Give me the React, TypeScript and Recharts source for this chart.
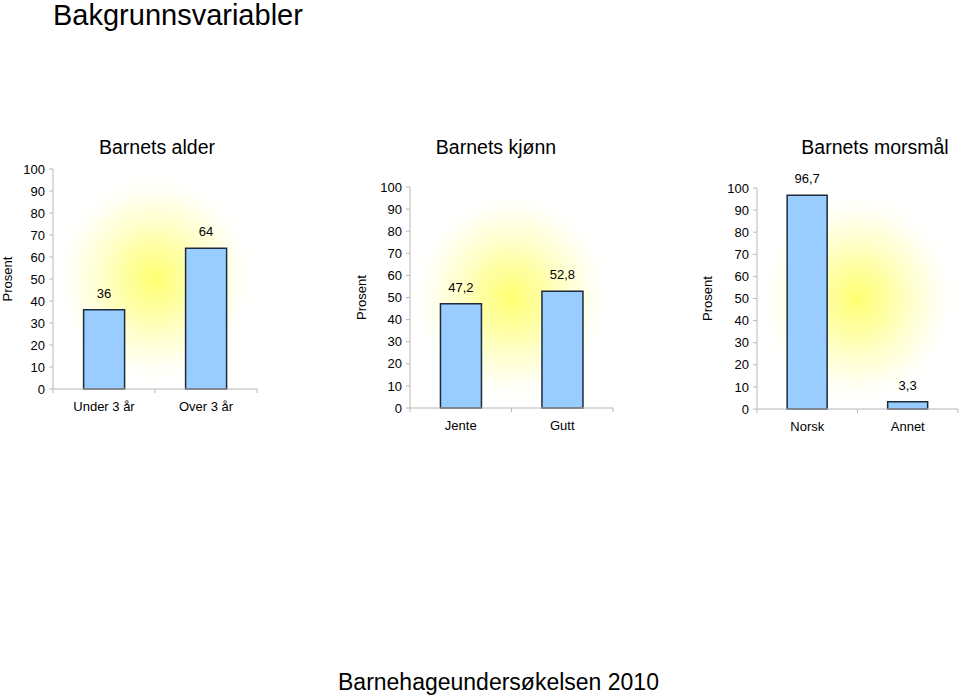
import React from 'react';
import { BarChart, Bar, XAxis, YAxis, ReferenceArea, LabelList } from 'recharts';

const ageCategories = ['Under 3 år', 'Over 3 år'];
const ageValues = [36, 64];
const genderCategories = ['Jente', 'Gutt'];
const genderValues = [47.2, 52.8];
const languageCategories = ['Norsk', 'Annet'];
const languageValues = [96.7, 3.3];
const yTicks = [0, 10, 20, 30, 40, 50, 60, 70, 80, 90, 100];

const FONT = '"Liberation Sans", Arial, Helvetica, sans-serif';
const AXIS_GREY = '#b8b8b8';

const fmt = (v: any) => String(v).replace('.', ',');

const XTick = (props: any) => {
  const { x, y, payload, index } = props;
  const off = payload.offset || 0;
  return (
    <g>
      <line x1={x + off} x2={x + off} y1={y} y2={y + 4} stroke={AXIS_GREY} />
      {index === 0 && <line x1={x - off} x2={x - off} y1={y} y2={y + 4} stroke={AXIS_GREY} />}
      <text x={x} y={y + 13} dy="0.71em" textAnchor="middle" fontSize={13} fill="#000" fontFamily={FONT}>
        {payload.value}
      </text>
    </g>
  );
};

type PanelProps = {
  id: string;
  cats: string[];
  vals: number[];
  left: number;
  top: number;
  width: number;
  height: number;
  yWidth: number;
  margin: { top: number; right: number; bottom: number; left: number };
  labelOffset: number;
};

const Panel = ({ id, cats, vals, left, top, width, height, yWidth, margin, labelOffset }: PanelProps) => {
  const data = cats.map((c, i) => ({ name: c, value: vals[i] }));
  return (
    <div style={{ position: 'absolute', left, top }}>
      <BarChart width={width} height={height} data={data} margin={margin} barCategoryGap="30%">
        <defs>
          <radialGradient id={id} cx="50%" cy="50%" r="50%">
            <stop offset="0%" stopColor="#ffff70" stopOpacity={1} />
            <stop offset="35%" stopColor="#ffff95" stopOpacity={0.8} />
            <stop offset="70%" stopColor="#ffffc0" stopOpacity={0.45} />
            <stop offset="90%" stopColor="#ffffe8" stopOpacity={0.15} />
            <stop offset="100%" stopColor="#ffffff" stopOpacity={0} />
          </radialGradient>
        </defs>
        <ReferenceArea y1={1} y2={99} fill={`url(#${id})`} fillOpacity={1} stroke="none" ifOverflow="visible" />
        <XAxis
          dataKey="name"
          axisLine={{ stroke: AXIS_GREY }}
          tickLine={false}
          tickSize={0}
          tickMargin={0}
          interval={0}
          tick={<XTick />}
          height={30}
        />
        <YAxis
          domain={[0, 100]}
          ticks={yTicks}
          interval={0}
          width={yWidth}
          axisLine={{ stroke: AXIS_GREY }}
          tickLine={{ stroke: AXIS_GREY }}
          tickSize={4}
          tickMargin={4}
          tick={{ fontSize: 13, fill: '#000', fontFamily: FONT }}
          label={{
            value: 'Prosent',
            angle: -90,
            position: 'insideLeft',
            offset: labelOffset,
            style: { textAnchor: 'middle', fontSize: 13, fill: '#000', fontFamily: FONT },
          }}
        />
        <Bar dataKey="value" fill="#99ccff" stroke="#1c2a3a" strokeWidth={1.5} isAnimationActive={false}>
          <LabelList
            dataKey="value"
            position="top"
            offset={12}
            formatter={fmt}
            style={{ fontSize: 13, fill: '#000', fontFamily: FONT }}
          />
        </Bar>
      </BarChart>
    </div>
  );
};

const titleStyle = (cx: number, cy: number, size: number, w: number): React.CSSProperties => ({
  position: 'absolute',
  left: cx - w / 2,
  top: cy - size * 0.6,
  width: w,
  textAlign: 'center',
  fontSize: size,
  lineHeight: `${size * 1.2}px`,
  fontFamily: FONT,
  color: '#000',
  whiteSpace: 'nowrap',
});

export default function App() {
  return (
    <div style={{ position: 'absolute', left: 0, top: 0, width: 960, height: 697, background: '#fff', overflow: 'hidden', fontFamily: FONT }}>
      <div style={{ position: 'absolute', left: 53, top: -1, fontSize: 29, lineHeight: '32px', fontFamily: FONT }}>Bakgrunnsvariabler</div>
      <div style={titleStyle(157, 148, 19.5, 220)}>Barnets alder</div>
      <div style={titleStyle(496, 148, 19.5, 220)}>Barnets kjønn</div>
      <div style={titleStyle(875, 148, 19.5, 170)}>Barnets morsmål</div>
      <Panel
        id="glowAge"
        cats={ageCategories}
        vals={ageValues}
        left={0}
        top={120}
        width={270}
        height={300}
        yWidth={53}
        margin={{ top: 49, right: 13, bottom: 1, left: 0 }}
        labelOffset={7}
      />
      <Panel
        id="glowGender"
        cats={genderCategories}
        vals={genderValues}
        left={350}
        top={130}
        width={270}
        height={310}
        yWidth={60}
        margin={{ top: 57, right: 7, bottom: 2, left: 0 }}
        labelOffset={11}
      />
      <Panel
        id="glowLang"
        cats={languageCategories}
        vals={languageValues}
        left={700}
        top={130}
        width={260}
        height={310}
        yWidth={57}
        margin={{ top: 58, right: 2, bottom: 1, left: 0 }}
        labelOffset={7}
      />
      <div style={{ position: 'absolute', left: 338, top: 670, fontSize: 23, lineHeight: '25px', fontFamily: FONT }}>Barnehageundersøkelsen 2010</div>
    </div>
  );
}
